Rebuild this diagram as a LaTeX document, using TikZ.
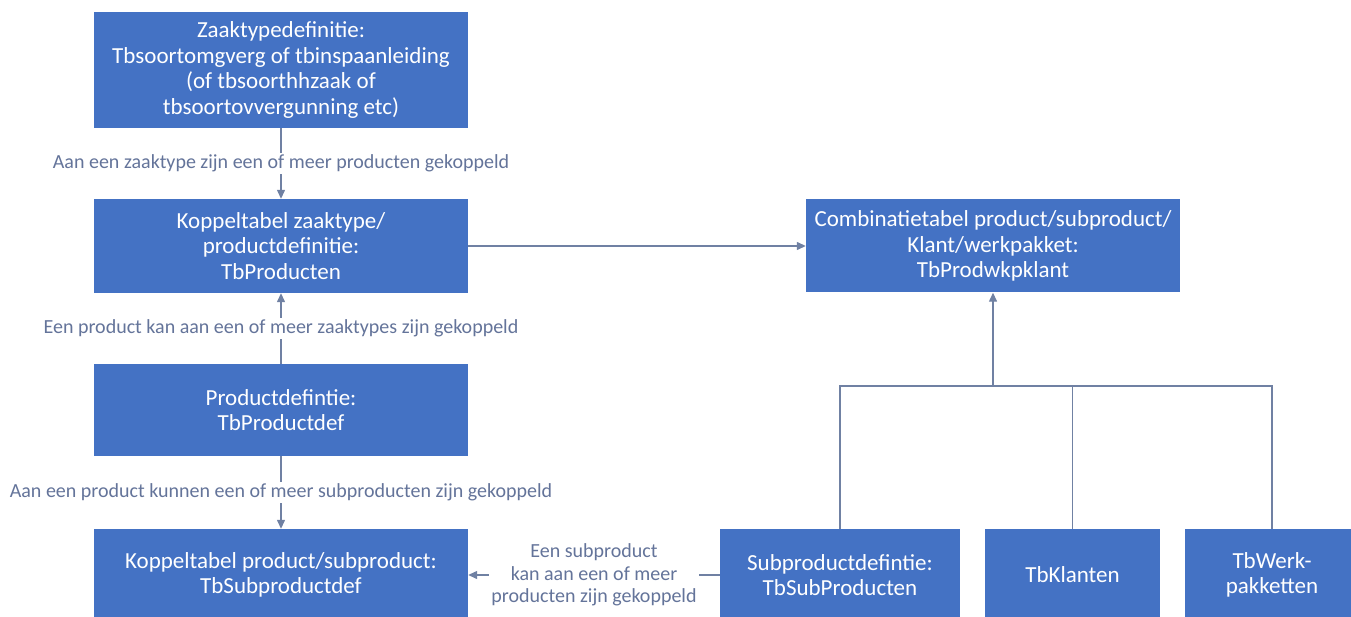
\documentclass[tikz,border=0pt]{standalone}
\usepackage{fontspec}
\setmainfont{Carlito}
\usetikzlibrary{arrows.meta}
\definecolor{boxblue}{HTML}{4472C4}
\definecolor{linecol}{HTML}{7081A3}
\definecolor{labcol}{HTML}{64749A}
\tikzset{
  tbox/.style={fill=boxblue, draw=none, text=white, align=center, inner sep=0pt,
    font=\fontsize{23}{25.5}\selectfont},
  conn/.style={draw=linecol, line width=1.3pt},
  arr/.style={conn, -{Triangle[length=9pt,width=8pt]}},
  lab/.style={fill=white, text=labcol, align=center, inner sep=2pt,
    font=\fontsize{20}{22.5}\selectfont}
}
\begin{document}
\begin{tikzpicture}[x=1pt,y=-1pt]
\useasboundingbox (0,0) rectangle (1351,617);
\node[tbox, minimum width=374, minimum height=116] (b1) at (281,70)
  {Zaaktypedefinitie:\\Tbsoortomgverg of tbinspaanleiding\\(of tbsoorthhzaak of\\tbsoortovvergunning etc)};
\node[tbox, minimum width=374, minimum height=94] (b2) at (281,246)
  {Koppeltabel zaaktype/\\productdefinitie:\\TbProducten};
\node[tbox, minimum width=374, minimum height=92] (b3) at (281,410)
  {Productdefintie:\\TbProductdef};
\node[tbox, minimum width=374, minimum height=92] (b4) at (281,575)
  {Koppeltabel product/subproduct:\\TbSubproductdef};
\node[tbox, minimum width=374, minimum height=93] (comb) at (993,246)
  {Combinatietabel product/subproduct/\\Klant/werkpakket:\\TbProdwkpklant};
\node[tbox, minimum width=240, minimum height=92] (sub) at (840,575)
  {Subproductdefintie:\\TbSubProducten};
\node[tbox, minimum width=175, minimum height=92] (kl) at (1072.5,575)
  {TbKlanten};
\node[tbox, minimum width=174, minimum height=92] (wp) at (1272,575)
  {TbWerk-\\pakketten};

\draw[arr] (b1) -- node[lab] {Aan een zaaktype zijn een of meer producten gekoppeld} (b2);
\draw[arr] (b3) -- node[lab] {Een product kan aan een of meer zaaktypes zijn gekoppeld} (b2);
\draw[arr] (b3) -- node[lab] {Aan een product kunnen een of meer subproducten zijn gekoppeld} (b4);
\draw[arr] (sub) -- node[lab] {Een subproduct\\kan aan een of meer\\producten zijn gekoppeld} (b4);
\draw[arr] (b2) -- (comb);

\coordinate (j) at (993,386);
\draw[conn] (sub.north) |- (j);
\draw[conn] (kl.north) |- (j);
\draw[conn] (wp.north) |- (j);
\draw[arr] (j) -- (comb.south);
\end{tikzpicture}
\end{document}
